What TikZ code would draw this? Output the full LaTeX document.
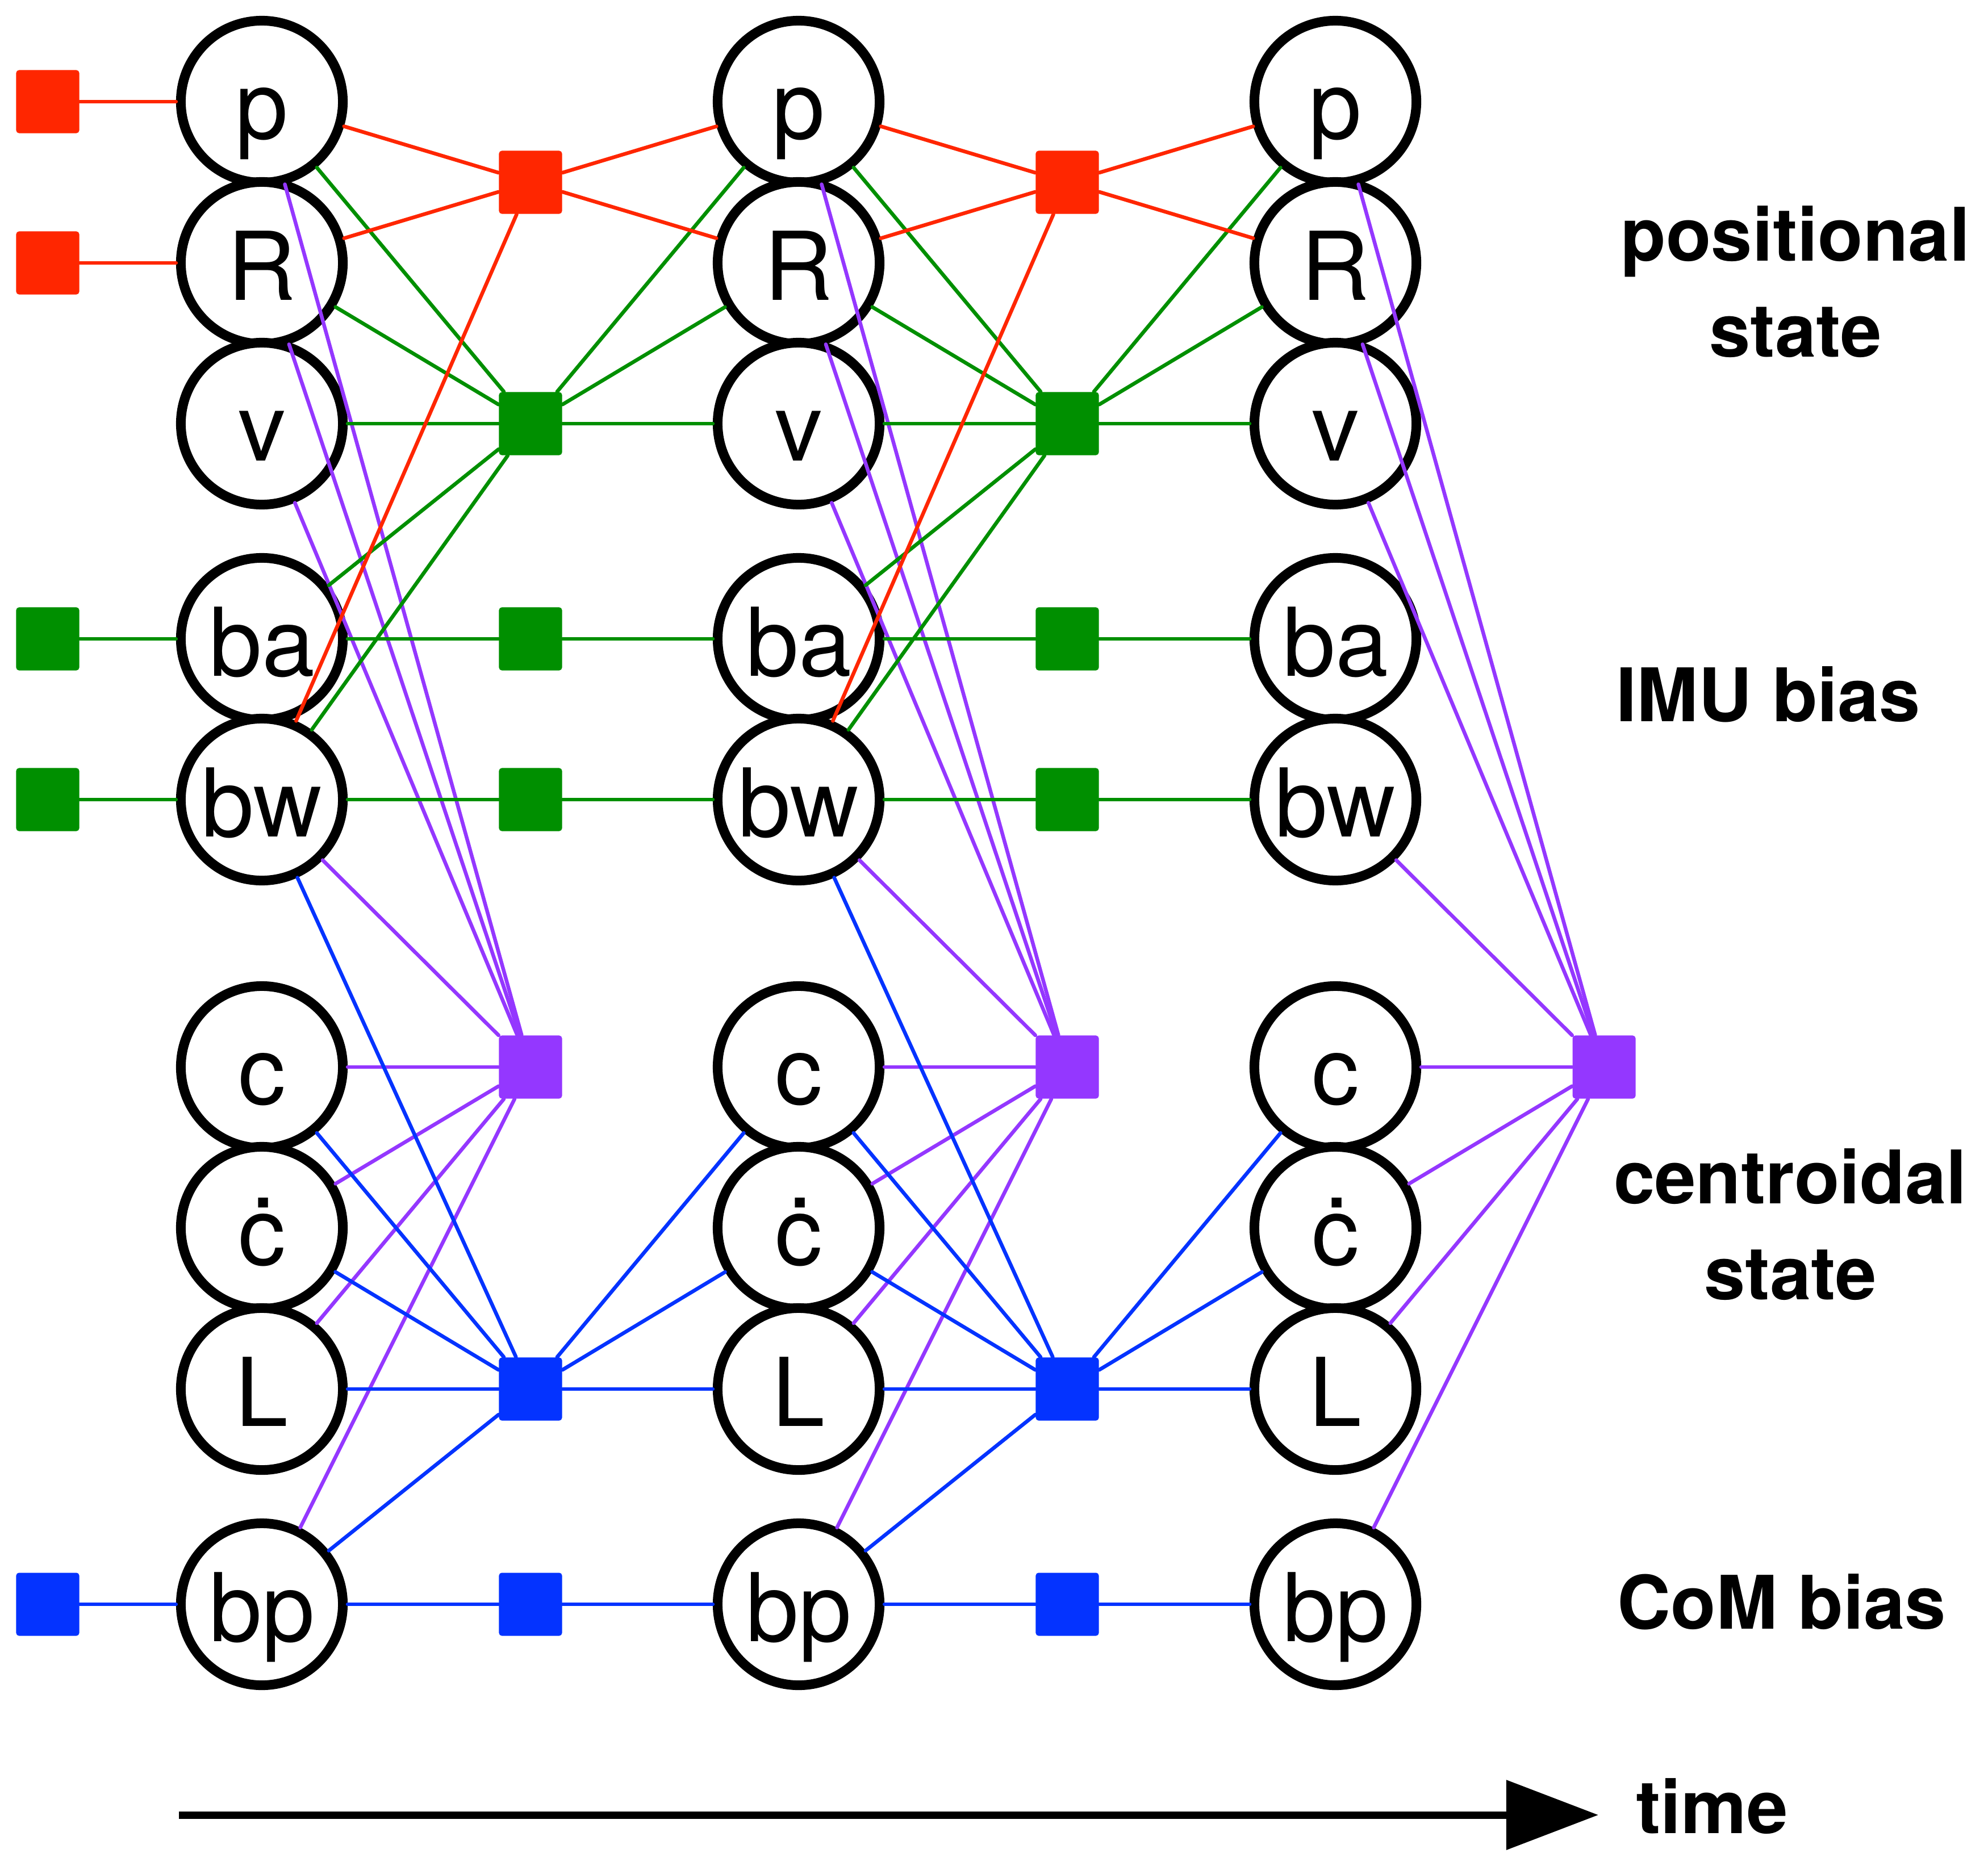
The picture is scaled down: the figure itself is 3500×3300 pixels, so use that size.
\documentclass[tikz,border=0pt]{standalone}
\usepackage{fontspec}
\setmainfont{TeX Gyre Heros}
\usetikzlibrary{arrows.meta}
\definecolor{fred}{HTML}{FF2600}
\definecolor{fgreen}{HTML}{008F00}
\definecolor{fblue}{HTML}{0433FF}
\definecolor{fpurple}{HTML}{9437FF}
\begin{document}
\begin{tikzpicture}[x=0.01cm,y=-0.01cm,
  var/.style={circle,draw=black,line width=0.17cm,fill=white,minimum size=2.85cm,
    inner sep=0pt,text height=1.3cm,text depth=0cm,font=\fontsize{47.5}{50}\selectfont},
  fac/.style={rectangle,rounded corners=0.05cm,minimum size=1.11cm,inner sep=0pt,fill=#1},
  lnk/.style={line width=0.065cm,line cap=round,draw=#1},
  lab/.style={font=\fontsize{37}{47.8}\bfseries\selectfont,align=center,anchor=base}
]
\useasboundingbox (0,0) rectangle (3500,3300);

% variable nodes
\foreach \i/\x in {1/461,2/1406,3/2351} {
  \node[var] (p\i)  at (\x,179)  {p};
  \node[var] (R\i)  at (\x,463)  {R};
  \node[var] (v\i)  at (\x,746)  {v};
  \node[var] (ba\i) at (\x,1125) {ba};
  \node[var] (bw\i) at (\x,1408) {bw};
  \node[var] (c\i)  at (\x,1879) {c};
  \node[var] (cd\i) at (\x,2162) {ċ};
  \node[var] (L\i)  at (\x,2446) {L};
  \node[var] (bp\i) at (\x,2825) {bp};
}

% prior factors
\node[fac=fred]   (prp)  at (84,179)  {};
\node[fac=fred]   (prR)  at (84,463)  {};
\node[fac=fgreen] (pgba) at (84,1125) {};
\node[fac=fgreen] (pgbw) at (84,1408) {};
\node[fac=fblue]  (pbbp) at (84,2825) {};

% between-step factors
\foreach \i/\x in {1/934,2/1879} {
  \node[fac=fred]    (fr\i)  at (\x,321)  {};
  \node[fac=fgreen]  (fg\i)  at (\x,746)  {};
  \node[fac=fgreen]  (fba\i) at (\x,1125) {};
  \node[fac=fgreen]  (fbw\i) at (\x,1408) {};
  \node[fac=fpurple] (fk\i)  at (\x,1879) {};
  \node[fac=fblue]   (fd\i)  at (\x,2446) {};
  \node[fac=fblue]   (fbp\i) at (\x,2825) {};
}
\node[fac=fpurple] (fk3) at (2824,1879) {};

% prior edges
\draw[lnk=fred]   (prp) -- (p1);
\draw[lnk=fred]   (prR) -- (R1);
\draw[lnk=fgreen] (pgba) -- (ba1);
\draw[lnk=fgreen] (pgbw) -- (bw1);
\draw[lnk=fblue]  (pbbp) -- (bp1);

% purple factors
\foreach \i in {1,2,3} {
  \foreach \n in {p\i,R\i,v\i,bw\i,c\i,cd\i,L\i,bp\i}
    \draw[lnk=fpurple] (fk\i) -- (\n);
}

\foreach \i/\j in {1/2,2/3} {
  \foreach \n in {bw\i,c\i,cd\i,L\i,bp\i,c\j,cd\j,L\j}
    \draw[lnk=fblue] (fd\i) -- (\n);
  \draw[lnk=fblue] (fbp\i) -- (bp\i);
  \draw[lnk=fblue] (fbp\i) -- (bp\j);
  \foreach \n in {p\i,R\i,v\i,ba\i,bw\i,p\j,R\j,v\j}
    \draw[lnk=fgreen] (fg\i) -- (\n);
  \draw[lnk=fgreen] (fba\i) -- (ba\i);
  \draw[lnk=fgreen] (fba\i) -- (ba\j);
  \draw[lnk=fgreen] (fbw\i) -- (bw\i);
  \draw[lnk=fgreen] (fbw\i) -- (bw\j);
  \foreach \n in {p\i,R\i,bw\i,p\j,R\j}
    \draw[lnk=fred] (fr\i) -- (\n);
}

% labels (base anchor = baseline of the last line)
\node[lab] (lpos) at (3161,628)  {positional\\state};
\node[lab] (limu) at (3113,1270) {IMU bias};
\node[lab] (lcen) at (3152,2288) {centroidal\\state};
\node[lab] (lcom) at (3137,2868) {CoM bias};
\node[lab] (ltime) at (3014,3228) {time};

% time arrow
\coordinate (tstart) at (315,3196);
\coordinate (tend) at (2814,3196);
\draw[line width=0.13cm,-{Triangle[length=1.62cm,width=1.2cm]}] (tstart) -- (tend);
\end{tikzpicture}
\end{document}
